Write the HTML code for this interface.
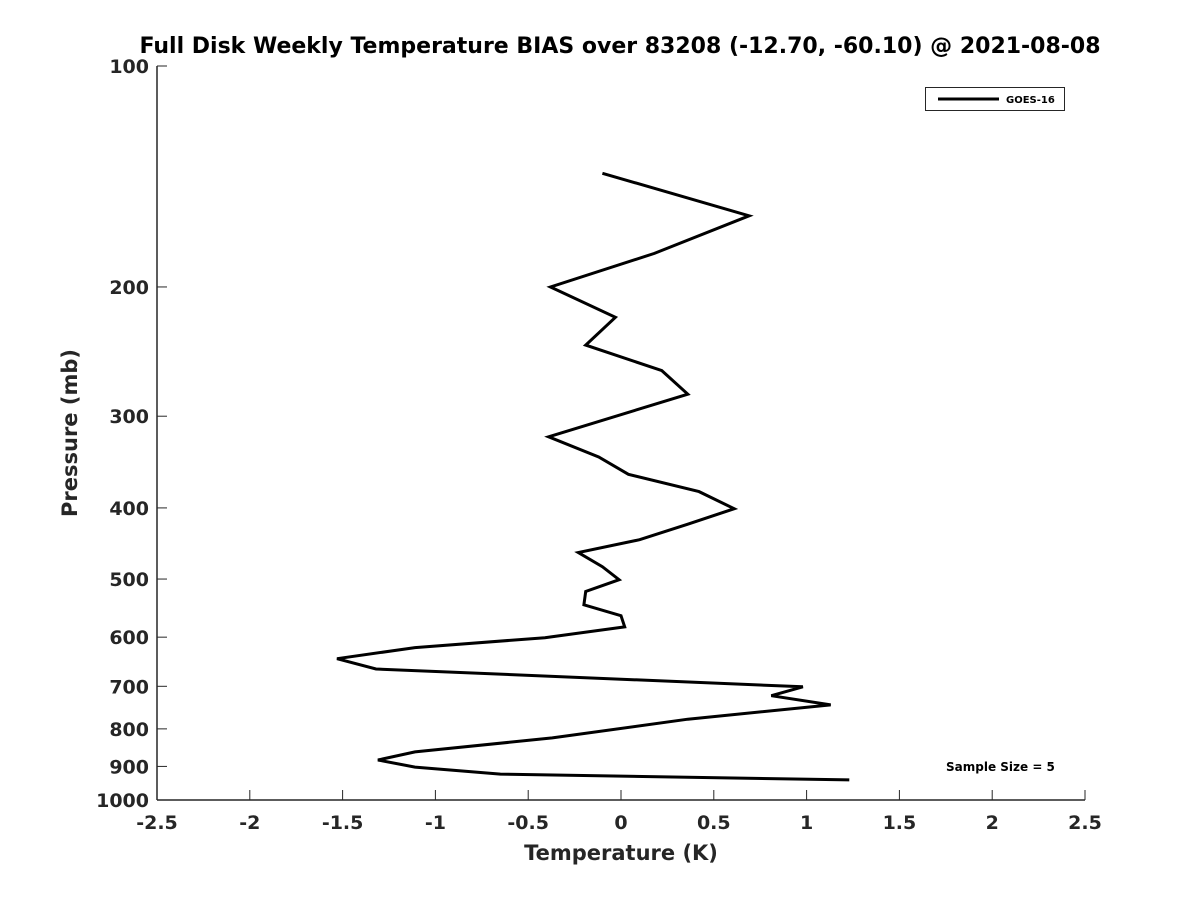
<!DOCTYPE html>
<html><head><meta charset="utf-8"><style>
body{margin:0;background:#fff;}
svg text{font-family:"DejaVu Sans","Liberation Sans",sans-serif;font-weight:bold;fill:#262626;}
</style></head><body>
<svg id="chart" width="1200" height="900" xmlns="http://www.w3.org/2000/svg">
<rect width="1200" height="900" fill="#fff"/>
<text x="620" y="53" font-size="22" text-anchor="middle" style="fill:#000">Full Disk Weekly Temperature BIAS over 83208 (-12.70, -60.10) @ 2021-08-08</text>
<g id="axes"></g>
<polyline id="series" fill="none" stroke="#000" stroke-width="3" stroke-linejoin="miter"/>
<text x="621" y="860" font-size="21" text-anchor="middle">Temperature (K)</text>
<text x="0" y="0" font-size="21" text-anchor="middle" transform="translate(77,433) rotate(-90)">Pressure (mb)</text>
<g>
<rect x="925.5" y="87.5" width="139" height="23" fill="#fff" stroke="#262626" stroke-width="1"/>
<line x1="938" y1="99" x2="999" y2="99" stroke="#000" stroke-width="3"/>
<text x="1006" y="103" font-size="10" style="fill:#000">GOES-16</text>
</g>
<text x="946" y="771" font-size="12" style="fill:#000">Sample Size = 5</text>
</svg>
<script>
const temps=[-0.10,0.69,0.18,-0.38,-0.03,-0.19,0.22,0.36,-0.39,-0.12,0.04,0.42,0.61,0.36,0.10,-0.23,-0.10,-0.01,-0.19,-0.20,0.00,0.02,-0.41,-1.11,-1.53,-1.32,0.98,0.81,1.13,0.36,-0.37,-1.11,-1.31,-1.11,-0.65,1.23];
const pressures=[140,160,180,200,220,240,260,280,320,341,360,380,401,421,442,460,481,501,520,542,561,581,601,620,642,663,701,721,742,776,823,860,882,902,922,939];
const xTicks=[-2.5,-2,-1.5,-1,-0.5,0,0.5,1,1.5,2,2.5];
const xTickLabels=["-2.5","-2","-1.5","-1","-0.5","0","0.5","1","1.5","2","2.5"];
const yTicks=[100,200,300,400,500,600,700,800,900,1000];
const yTickLabels=["100","200","300","400","500","600","700","800","900","1000"];
const X0=157,X1=1085,Y0=66,Y1=800;
function xs(v){return X0+(v+2.5)/5*(X1-X0);}
function ys(p){return Y0+(Math.log10(p)-2)*(Y1-Y0);}
const ns="http://www.w3.org/2000/svg";
const ax=document.getElementById('axes');
function mk(t,a){const e=document.createElementNS(ns,t);for(const k in a)e.setAttribute(k,a[k]);return e;}
const yl=mk('line',{x1:X0,y1:Y0,x2:X0,y2:Y1,stroke:'#262626','stroke-width':1.5});


ax.appendChild(yl);
const xl=mk('line',{x1:X0,y1:Y1,x2:X1,y2:Y1,stroke:'#262626','stroke-width':1.5});


ax.appendChild(xl);
xTicks.forEach((v,i)=>{
 const x=xs(v);
 const t=mk('line',{x1:x,y1:Y1,x2:x,y2:Y1-10,stroke:'#262626','stroke-width':1});
 
 
 ax.appendChild(t);
 const l=mk('text',{x:x,y:Y1+29,'font-size':19,'text-anchor':'middle'});
 
 
 l.textContent=xTickLabels[i];ax.appendChild(l);
});
yTicks.forEach((p,i)=>{
 const y=ys(p);
 const t=mk('line',{x1:X0,y1:y,x2:X0+10,y2:y,stroke:'#262626','stroke-width':1});
 
 
 ax.appendChild(t);
 const l=mk('text',{x:X0-8,y:y+7,'font-size':19,'text-anchor':'end'});
 
 
 l.textContent=yTickLabels[i];ax.appendChild(l);
});
document.getElementById('series').setAttribute('points',temps.map((v,i)=>xs(v).toFixed(1)+','+ys(pressures[i]).toFixed(1)).join(' '));
</script>
</body></html>
